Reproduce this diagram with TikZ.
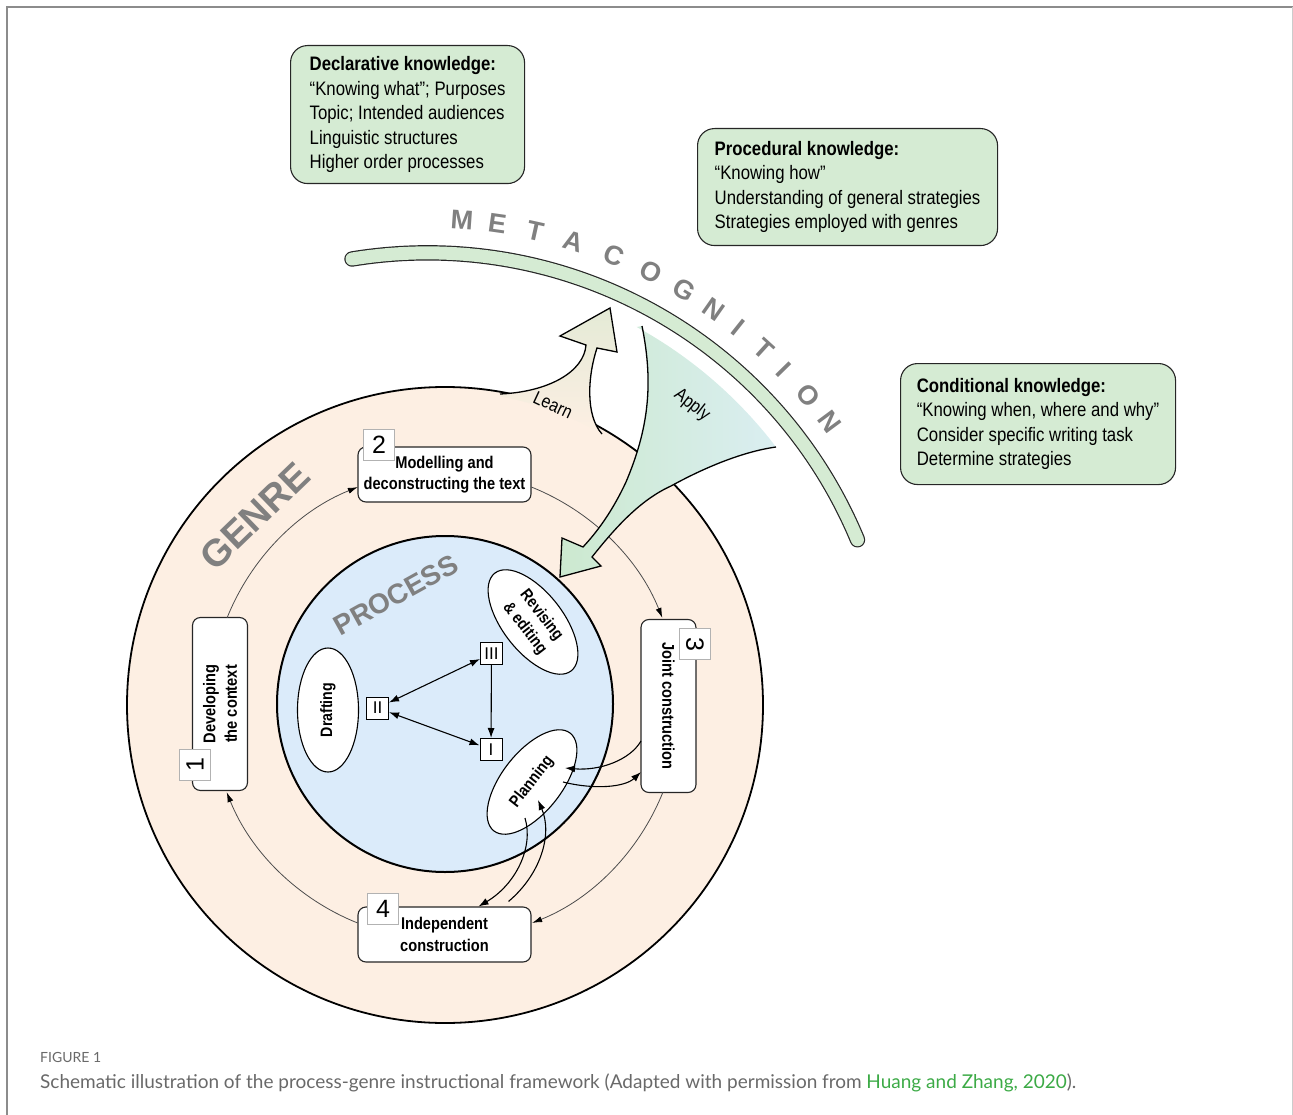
\documentclass[tikz,border=0pt]{standalone}
\usepackage{fontspec}
\setmainfont{Liberation Sans}
\newfontfamily\narrowfont{Liberation Sans}[FakeStretch=0.86]
\newfontfamily\captionfont{Lato}
\usetikzlibrary{shapes.geometric,arrows.meta,calc}
\definecolor{genrefill}{RGB}{253,239,227}
\definecolor{processfill}{RGB}{219,235,250}
\definecolor{knowgreen}{RGB}{213,235,211}
\definecolor{labelgray}{RGB}{128,128,128}
\definecolor{capgray}{RGB}{105,105,105}
\definecolor{citegreen}{RGB}{60,170,70}
\definecolor{learntop}{RGB}{228,234,214}
\definecolor{applylow}{RGB}{204,233,207}
\definecolor{applyhigh}{RGB}{218,238,241}
\begin{document}
\begin{tikzpicture}[x=1pt,y=-1pt]
	\tikzstyle{knowbox}=[draw=black!85,line width=1.1pt,fill=knowgreen,rounded corners=17pt,anchor=north west,align=left,inner xsep=8pt,font=\narrowfont\fontsize{19.5}{24.5}\selectfont]
	\tikzstyle{stagebox}=[draw=black!85,line width=1.1pt,fill=white,rounded corners=8pt,minimum width=173pt,minimum height=55pt,inner sep=1pt,align=center,font=\narrowfont\bfseries\fontsize{17}{21.5}\selectfont]
	\tikzstyle{numbox}=[draw=black!30,line width=0.8pt,fill=white,minimum size=31pt,inner sep=0pt,font=\fontsize{25}{25}\selectfont]
	\tikzstyle{phasebox}=[draw=black,line width=1pt,fill=white,minimum size=22pt,inner sep=0pt,font=\fontsize{17}{17}\selectfont]
	\tikzstyle{writestage}=[ellipse,draw=black,line width=1.1pt,fill=white,minimum width=124pt,minimum height=61pt,inner sep=0pt,align=center,font=\narrowfont\bfseries\fontsize{16.5}{21}\selectfont]
	\tikzstyle{link}=[draw,line width=1.1pt,-{Latex[length=10pt,width=7pt]}]
	\tikzstyle{track}=[draw=black!70,line width=0.8pt,-{Latex[length=10pt,width=6pt,black]}]
	\tikzstyle{rim}=[draw=black,line width=1.3pt]
	\tikzstyle{bigword}=[text=labelgray,font=\bfseries\fontsize{38}{38}\selectfont,inner sep=0pt]
	\tikzstyle{metaletter}=[text=labelgray,font=\bfseries\fontsize{27}{27}\selectfont,inner sep=0pt]
	\tikzstyle{arrowword}=[font=\narrowfont\fontsize{18.5}{18.5}\selectfont,inner sep=0pt]
	\tikzstyle{captext}=[anchor=base west,inner sep=0pt,text=capgray]
	\useasboundingbox (0,0) rectangle (1293,1115);
	\draw[black!45,line width=1.2pt] (7,1115) -- (7,7) -- (1293,7);
	\draw[black!20,line width=1pt] (1292,7) -- (1292,1115);
	\begin{scope}
		\node[circle,draw=black,line width=1.8pt,fill=genrefill,minimum size=636pt,inner sep=0pt] (genre) at (445,705) {};
		\node[circle,draw=black,line width=2pt,fill=processfill,minimum size=336pt,inner sep=0pt] (process) at (445,704) {};
		\node[stagebox,rotate=90] (b1) at (220,704) {Developing\\the context};
		\node[stagebox] (b2) at (444.5,474.5) {Modelling and\\deconstructing the text};
		\node[stagebox,rotate=-90] (b3) at (668.5,706) {Joint construction};
		\node[stagebox] (b4) at (444.5,934.5) {Independent\\construction};
		\node[numbox,rotate=90] (n1) at (195,765) {1};
		\node[numbox] (n2) at (379,445) {2};
		\node[numbox,rotate=-90] (n3) at (695,644) {3};
		\node[numbox] (n4) at (383,909) {4};
		\draw[track] ($(b1.center)+(7.1,-86.2)$) arc[start angle=-158.2,end angle=-111.8,radius=234.7];
		\draw[track] ($(b2.east)+(0,12.6)$) arc[start angle=-68.2,end angle=-21.8,radius=234.7];
		\draw[track] ($(b3.center)+(-5.6,86.2)$) arc[start angle=21.8,end angle=68.2,radius=234.7];
		\draw[track] ($(b4.west)+(0,-11.6)$) arc[start angle=111.8,end angle=158.2,radius=234.7];
	\end{scope}
	\begin{scope}
		\shade[top color=learntop,bottom color=genrefill] (500,394) .. controls (548,392) and (584,372) .. (586,345) -- (560,336) -- (610,308) -- (617,352) -- (597,348) .. controls (588,375) and (585,415) .. (602,434) arc[start angle=-59.9,end angle=-79.5,radius=318] -- cycle;
		\draw[rim] (500,394) .. controls (548,392) and (584,372) .. (586,345) -- (560,336) -- (610,308) -- (617,352) -- (597,348) .. controls (588,375) and (585,415) .. (602,434);
		\shade[left color=applylow,right color=applyhigh] (642,326) .. controls (654,385) and (648,430) .. (626,482) .. controls (612,512) and (597,532) .. (583,547) -- (562,538) -- (560,577) -- (601,566) -- (592,557) .. controls (615,528) and (640,500) .. (671,486) .. controls (700,470) and (740,452) .. (776,447) arc[start angle=-37.3,end angle=-61.2,radius=444] -- cycle;
		\draw[rim] (642,326) .. controls (654,385) and (648,430) .. (626,482) .. controls (612,512) and (597,532) .. (583,547) -- (562,538) -- (560,577) -- (601,566) -- (592,557) .. controls (615,528) and (640,500) .. (671,486) .. controls (700,470) and (740,452) .. (776,447);
		\node[arrowword,rotate=-25] (learn) at (553,405) {Learn};
		\node[arrowword,rotate=-38] (apply) at (692,405) {Apply};
	\end{scope}
	\begin{scope}
		\coordinate (metacentre) at (427,719);
		\draw[draw=black!85,line width=1.2pt,double=knowgreen,double distance=13pt,line cap=round] (352,259) arc[start angle=-99.3,end angle=-22.6,radius=466];
		\foreach \l/\a [count=\i] in {M/-86,E/-81.9,T/-77.5,A/-72.9,C/-68,O/-63.4,G/-59,N/-55,I/-51.5,T/-47.7,I/-44.4,O/-40.3,N/-36.4}
			\node[metaletter,rotate={-(\a)-90}] (meta\i) at ($(metacentre)+(\a:500)$) {\l};
	\end{scope}
	\begin{scope}
		\node[knowbox,minimum width=234pt,minimum height=138pt] (declarative) at (290,45) {{\bfseries Declarative knowledge:}\\“Knowing what”; Purposes\\Topic; Intended audiences\\Linguistic structures\\Higher order processes};
		\node[knowbox,minimum width=300pt,minimum height=117pt] (procedural) at (697,128) {{\bfseries Procedural knowledge:}\\“Knowing how”\\Understanding of general strategies\\Strategies employed with genres};
		\node[knowbox,minimum width=275pt,minimum height=121pt] (conditional) at (900,363) {{\bfseries Conditional knowledge:}\\“Knowing when, where and why”\\Consider specific writing task\\Determine strategies};
	\end{scope}
	\begin{scope}
		\node[writestage,rotate=90] (drafting) at (328,710) {Drafting};
		\node[writestage,minimum height=60pt,rotate=-52] (revising) at (533,622) {Revising\\\& editing};
		\node[writestage,minimum height=60pt,rotate=52] (planning) at (532,782) {Planning};
		\node[phasebox] (r3) at (491.5,653.5) {III};
		\node[phasebox] (r2) at (377.5,708) {II};
		\node[phasebox] (r1) at (491,749.5) {I};
		\path[link,{Latex[length=10pt,width=7pt]}-{Latex[length=10pt,width=7pt]}] (r2) edge (r3);
		\path[link,{Latex[length=10pt,width=7pt]}-{Latex[length=10pt,width=7pt]}] (r2) edge (r1);
		\path[link] (r3) edge (r1);
		\draw[link] ($(b3.center)+(-27.5,35)$) .. controls (630,760) and (600,771) .. ($(planning.center)+(33,-14)$);
		\draw[link] ($(planning.center)+(31,0)$) .. controls (595,790) and (625,787) .. ($(b3.center)+(-27.5,66)$);
		\draw[link] ($(planning.center)+(-7,36)$) .. controls (534,848) and (515,885) .. ($(b4.north)+(34,0)$);
		\draw[link] ($(b4.north)+(64,-5)$) .. controls (540,875) and (553,835) .. ($(planning.center)+(6,18)$);
		\node[bigword,rotate=44] (genreword) at (255,516) {GENRE};
		\node[bigword,font=\bfseries\fontsize{28}{28}\selectfont,rotate=29] (processword) at (396,595) {PROCESS};
	\end{scope}
	\node[captext,font=\captionfont\fontsize{14}{14}\selectfont] (figlabel) at (40,1062) {FIGURE 1};
	\node[captext,font=\captionfont\fontsize{19}{19}\selectfont] (figcaption) at (40,1088) {Schematic illustration of the process-genre instructional framework (Adapted with permission from \textcolor{citegreen}{Huang and Zhang, 2020}).};
\end{tikzpicture}
\end{document}
